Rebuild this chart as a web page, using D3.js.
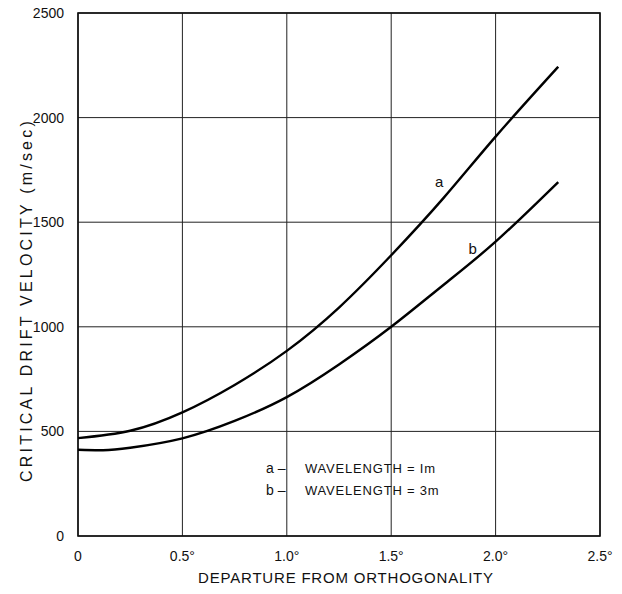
<!DOCTYPE html>
<html>
<head>
<meta charset="utf-8">
<script src="https://cdn.jsdelivr.net/npm/d3@7"></script>
<style>
	body { margin: 0; background: #fff; }
	svg text { font-family: "Liberation Sans", Arial, sans-serif; fill: #111; }
</style>
</head>
<body>
<div id="chart"></div>
<script>
// departure (deg) vs critical drift velocity (m/sec)
var xTicks = [0, 0.5, 1.0, 1.5, 2.0, 2.5];
var xTickLabels = ['0', '0.5°', '1.0°', '1.5°', '2.0°', '2.5°'];
var yTicks = [0, 500, 1000, 1500, 2000, 2500];

var depA = [0, 0.25, 0.5, 0.75, 1.0, 1.25, 1.5, 1.75, 2.0, 2.3];
var velA = [468, 503, 591, 722, 885, 1092, 1342, 1615, 1909, 2243];

var depB = [0, 0.12, 0.25, 0.5, 0.75, 1.0, 1.25, 1.5, 1.75, 2.0, 2.3];
var velB = [412, 410, 422, 467, 550, 664, 820, 1000, 1200, 1407, 1692];

var legendLines = [['a', 'WAVELENGTH = Im'], ['b', 'WAVELENGTH = 3m']];

var width = 622, height = 594;
var margin = {top: 13, right: 22, bottom: 58, left: 78};

var svg = d3.select('#chart')
	.append('svg')
	.attr('width', width)
	.attr('height', height);

var x = d3.scaleLinear().domain([0, 2.5]).range([margin.left, width - margin.right]);
var y = d3.scaleLinear().domain([0, 2500]).range([height - margin.bottom, margin.top]);

// grid
svg.append('g')
	.selectAll('line')
	.data(xTicks)
	.enter().append('line')
	.attr('x1', function(d) { return x(d); })
	.attr('x2', function(d) { return x(d); })
	.attr('y1', y(0))
	.attr('y2', y(2500))
	.style('stroke', '#222')
	.style('stroke-width', 1);

svg.append('g')
	.selectAll('line')
	.data(yTicks)
	.enter().append('line')
	.attr('x1', x(0))
	.attr('x2', x(2.5))
	.attr('y1', function(d) { return y(d); })
	.attr('y2', function(d) { return y(d); })
	.style('stroke', '#222')
	.style('stroke-width', 1);

svg.append('rect')
	.attr('x', x(0))
	.attr('y', y(2500))
	.attr('width', x(2.5) - x(0))
	.attr('height', y(0) - y(2500))
	.style('fill', 'none')
	.style('stroke', '#111')
	.style('stroke-width', 1.6);

// tick labels
svg.append('g')
	.selectAll('text')
	.data(xTicks)
	.enter().append('text')
	.attr('x', function(d) { return x(d); })
	.attr('y', y(0) + 25)
	.attr('text-anchor', 'middle')
	.style('font-size', '14px')
	.text(function(d, i) { return xTickLabels[i]; });

svg.append('g')
	.selectAll('text')
	.data(yTicks)
	.enter().append('text')
	.attr('x', x(0) - 14)
	.attr('y', function(d) { return y(d) + 5; })
	.attr('text-anchor', 'end')
	.style('font-size', '14px')
	.text(function(d) { return d; });

// axis titles
svg.append('text')
	.attr('x', 346)
	.attr('y', 583)
	.attr('text-anchor', 'middle')
	.style('font-size', '15px')
	.style('letter-spacing', '0.8px')
	.text('DEPARTURE FROM ORTHOGONALITY');

svg.append('text')
	.attr('transform', 'translate(32,300) rotate(-90)')
	.attr('text-anchor', 'middle')
	.style('font-size', '16px')
	.style('letter-spacing', '3.2px')
	.text('CRITICAL DRIFT VELOCITY (m/sec)');

// curves
var line = d3.line()
	.x(function(d) { return x(d[0]); })
	.y(function(d) { return y(d[1]); })
	.curve(d3.curveNatural);

svg.append('path')
	.datum(d3.zip(depA, velA))
	.attr('d', line)
	.style('fill', 'none')
	.style('stroke', '#000')
	.style('stroke-width', 2.4);

svg.append('path')
	.datum(d3.zip(depB, velB))
	.attr('d', line)
	.style('fill', 'none')
	.style('stroke', '#000')
	.style('stroke-width', 2.4);

svg.append('text')
	.attr('x', x(1.71))
	.attr('y', y(1670))
	.style('font-size', '15px')
	.text('a');

svg.append('text')
	.attr('x', x(1.87))
	.attr('y', y(1350))
	.style('font-size', '15px')
	.text('b');

// legend
var legend = svg.append('g')
	.selectAll('g')
	.data(legendLines)
	.enter().append('g')
	.attr('transform', function(d, i) { return 'translate(266,' + (473 + i * 22) + ')'; });

legend.append('text')
	.style('font-size', '14px')
	.text(function(d) { return d[0] + '  –'; });

legend.append('text')
	.attr('x', 39)
	.style('font-size', '13px')
	.style('letter-spacing', '0.8px')
	.text(function(d) { return d[1]; });
</script>
</body>
</html>
